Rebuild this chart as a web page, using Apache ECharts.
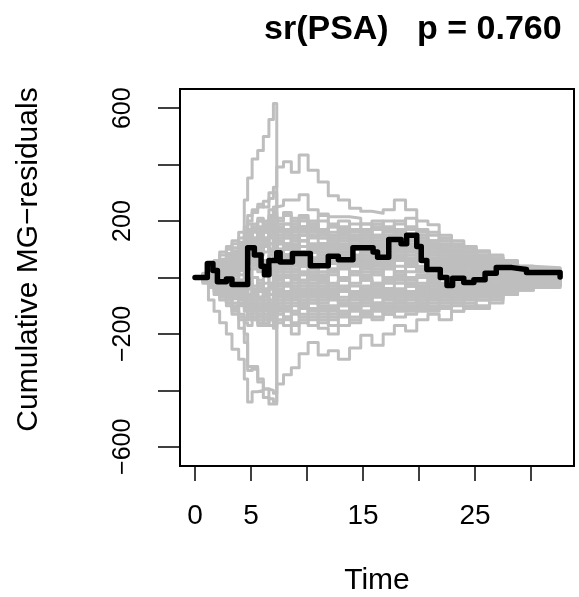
<!DOCTYPE html>
<html>
<head>
<meta charset="utf-8">
<script src="https://cdn.jsdelivr.net/npm/echarts@6/dist/echarts.min.js"></script>
<style>
html,body{margin:0;padding:0;background:#fff;}
#chart{width:579px;height:597px;}
</style>
</head>
<body>
<div id="chart"></div>
<script>
// ---- data ----
const titleText = 'sr(PSA)   p = 0.760';
const xName = 'Time';
const yName = 'Cumulative MG\u2212residuals';
const xTicks = [0, 5, 10, 15, 20, 25, 30];
const xTickLabels = [0, 5, 15, 25];
const yTicks = [-600, -400, -200, 0, 200, 400, 600];
const yTickLabels = [-600, -200, 200, 600];

// observed process
const obsTimes = [0, 1.1, 1.6, 2.0, 2.8, 3.3, 4.7, 5.3, 5.9, 6.2, 6.6, 7.3, 7.6, 8.7, 10.3, 11.9, 12.8, 14.1, 15.9, 16.3, 17.3, 18.4, 18.9, 19.8, 20.2, 20.7, 21.9, 22.5, 23.0, 24.0, 24.9, 25.9, 26.9, 28.3, 29.6, 32.6];
const obsValues = [0, 50, 25, -15, -5, -25, 105, 80, 40, 10, 60, 88, 55, 85, 42, 75, 63, 105, 90, 72, 135, 120, 150, 110, 60, 28, 0, -28, -3, -18, -8, 15, 35, 28, 18, 2];

// simulated processes (shared jump times)
const simTimes = [0, 0.7, 1.2, 1.7, 2.2, 2.8, 3.3, 3.9, 4.4, 4.7, 5.1, 5.6, 6.1, 6.6, 7.0, 7.3, 7.9, 8.6, 9.3, 10.1, 11.0, 11.9, 12.8, 13.8, 14.8, 15.8, 16.8, 17.8, 18.8, 19.8, 20.8, 21.8, 22.9, 24.0, 25.1, 26.3, 27.5, 28.8, 30.2, 32.6];
const sim01 = [0,10,25,40,55, 70,85,110,275,353, 420,450,500,560,617, 120,140,110,130,100, 80,110,90,120,100, 80,110,130,90,60, 40,50,30,40,20, 30,20,10,15,10];
const sim02 = [0,-20,-80,-120,-160, -200,-254,-290,-360,-441, -405,-400,-425,-448,-448, -60,-80,-50,-90,-110, -80,-60,-90,-70,-40, -60,-80,-50,-30,-60, -40,-20,-40,-30,-10, -20,-10,0,-10,-5];
const sim03 = [0,-5,-20,-40,-60, -90,-130,-180,-230,-330, -315,-370,-395,-430,-440, -377,-345,-320,-270,-230, -275,-260,-290,-250,-205, -240,-200,-170,-190,-150, -130,-150,-120,-100,-110, -80,-50,-40,-25,-20];
const sim04 = [0,5,-10,-30,-50, -70,-100,-150,-200,-315, -325,-360,-395,-400,-410, -150,-170,-200,-160,-140, -180,-200,-170,-150,-120, -140,-110,-90,-120,-100, -80,-60,-70,-50,-60, -40,-30,-20,-10,-10];
const sim05 = [0,10,20,30,50, 40,60,80,150,200, 230,250,270,300,320, 392,410,373,434,380, 338,290,275,245,235, 228,240,275,240,200, 187,150,130,110,95, 80,60,40,30,25];
const sim06 = [0,-5,10,20,30, 50,40,70,120,150, 170,200,190,220,250, 255,275,275,293,240, 225,215,215,210,190, 200,170,190,210,170, 150,130,110,90,70, 60,45,30,25,20];
const sim07 = [0,12,30,60,90, 110,130,160,180,220, 240,260,250,280,300, 200,220,180,160,190, 170,150,160,140,120, 130,150,160,140,110, 90,100,80,70,60, 50,40,30,25,20];
const sim08 = [0,-8,-25,-40,-60, -80,-70,-100,-120,-150, -130,-160,-140,-170,-180, -90,-110,-130,-100,-120, -140,-110,-130,-100,-120, -90,-100,-80,-110,-90, -70,-80,-60,-70,-50, -40,-50,-30,-20,-15];
const sim09 = [0,5,20,40,30, 50,70,60,90,120, 100,140,130,160,150, 170,190,160,180,150, 170,180,160,150,170, 140,160,150,170,130, 110,120,100,80,70, 50,40,35,25,15];
const sim10 = [0,-5,-15,-30,-20, -40,-60,-50,-80,-60, -90,-110,-80,-120,-100, -40,-60,-30,-50,-70, -40,-60,-80,-50,-30, -60,-40,-50,-70,-40, -20,-40,-60,-30,-50, -20,-30,-10,-20,-10];
const sim11 = [0,10,25,20,45, 60,50,80,70,100, 80,120,110,90,130, 80,100,130,110,90, 120,100,80,110,130, 100,90,120,140,110, 80,70,90,60,50, 60,40,20,30,20];
const sim12 = [0,-10,-20,-5,-30, -50,-40,-20,-60,-30, -70,-50,-90,-60,-80, 20,0,-20,10,-30, -10,20,0,-20,10, 30,0,-10,20,40, 20,0,10,-10,0, 10,-10,5,0,-5];
const sim13 = [0,8,15,35,50, 40,70,90,110,80, 130,150,170,140,190, 130,150,170,200,180, 150,130,160,140,120, 150,170,160,130,120, 100,90,70,80,60, 40,50,30,20,15];
const sim14 = [0,-12,-30,-50,-70, -90,-110,-130,-150,-110, -140,-120,-150,-130,-160, -120,-140,-160,-130,-150, -120,-100,-130,-110,-90, -110,-130,-100,-80,-100, -90,-70,-80,-60,-70, -50,-40,-30,-25,-20];
const sim15 = [0,3,10,25,15, 30,20,40,60,50, 70,40,60,80,60, 100,80,60,90,70, 50,80,100,70,60, 90,110,100,80,60, 50,70,40,30,50, 30,20,10,15,10];
const sim16 = [0,-3,-10,5,-15, 0,20,10,-20,30, 0,-30,10,-20,20, 60,40,20,50,30, 0,30,50,20,40, 10,30,60,40,20, 0,20,-10,10,-20, 0,10,0,5,0];
const sim17 = [0,15,35,55,80, 100,120,140,160,190, 170,200,180,210,190, 140,160,140,170,190, 160,180,150,170,190, 170,150,130,150,120, 130,110,120,90,80, 70,50,40,30,25];
const sim18 = [0,-6,-20,-35,-50, -70,-90,-70,-100,-80, -120,-100,-140,-110,-130, -60,-80,-100,-70,-90, -110,-130,-100,-120,-140, -110,-90,-120,-100,-80, -100,-110,-90,-80,-60, -70,-50,-40,-30,-25];
const sim19 = [0,7,18,30,45, 60,80,100,90,130, 110,160,140,180,170, 60,80,50,70,90, 110,90,60,80,100, 120,90,70,100,80, 60,40,60,50,30, 40,20,15,10,10];
const sim20 = [0,-2,5,15,30, 20,40,30,60,90, 110,90,120,100,140, 40,20,40,60,40, 20,50,30,10,40, 60,40,20,50,70, 50,30,40,20,30, 10,20,10,5,5];
const sim21 = [0,4,-10,-25,-15, -35,-20,-45,-30,-60, -40,-70,-50,-30,-60, 0,-20,10,-10,20, 40,10,-10,20,0, -30,-10,10,-20,0, 20,0,-20,0,-10, 10,0,-5,-5,0];
const sim22 = [0,10,20,45,65, 85,105,125,140,160, 180,150,190,170,210, 170,190,210,180,200, 220,190,170,190,160, 180,200,170,150,160, 130,140,110,100,90, 60,50,35,30,20];
const sim23 = [0,-8,-18,-10,-30, -45,-60,-80,-60,-100, -80,-130,-100,-150,-120, -130,-150,-120,-140,-110, -130,-150,-120,-100,-130, -110,-130,-110,-90,-120, -110,-90,-100,-110,-80, -90,-60,-45,-35,-25];
const sim24 = [0,5,15,10,25, 45,35,55,75,65, 95,85,115,95,115, 30,50,70,40,60, 80,60,40,60,80, 60,40,60,90,70, 40,60,30,40,20, 30,10,10,10,5];
const sim25 = [0,-4,-8,-20,-10, -25,-40,-25,-50,-20, -45,-20,-50,-40,-70, -20,10,-10,-30,0, -20,-40,-10,-30,-50, -20,-40,-60,-30,-50, -30,-50,-40,-20,-40, -20,-30,-15,-10,-10];
const sim26 = [0,6,12,30,20, 40,60,80,70,110, 100,80,110,90,120, 10,30,0,20,-10, 10,30,60,40,20, 40,60,80,50,30, 10,30,10,-10,10, -10,0,-5,0,0];
const sim27 = [0,-15,-35,-60,-80, -100,-120,-140,-160,-170, -150,-170,-160,-150,-170, -100,-120,-90,-110,-130, -160,-140,-120,-140,-120, -100,-120,-90,-70,-90, -110,-80,-90,-70,-80, -60,-50,-35,-30,-25];
const sim28 = [0,2,8,20,35, 50,65,85,100,150, 130,170,160,200,190, 100,120,100,130,110, 90,110,130,110,90, 110,90,120,100,80, 90,60,50,60,40, 30,20,20,15,10];
const sim29 = [0,-5,-12,-25,-40, -30,-55,-75,-90,-60, -90,-70,-100,-80,-110, -70,-50,-70,-90,-60, -80,-60,-40,-60,-80, -60,-40,-70,-50,-30, -50,-30,-50,-40,-20, -30,-20,-10,-15,-5];
const sim30 = [0,9,22,15,35, 25,45,65,50,120, 140,130,170,150,180, 150,170,150,130,150, 170,150,130,110,130, 150,130,110,120,100, 80,100,80,60,70, 50,30,25,20,15];
const sim31 = [0,-3,-12,-25,-40, -60,-45,-70,-90,-130, -110,-140,-120,-90,-110, -30,-50,-70,-40,-60, -90,-70,-50,-80,-60, -40,-70,-50,-30,-60, -40,-60,-40,-60,-40, -30,-20,-15,-10,-10];
const sim32 = [0,6,-5,10,-10, 15,-5,25,40,70, 50,30,50,20,40, -20,0,30,10,-20, 0,-30,-10,20,-10, -30,0,20,-10,10, -10,-30,-10,-30,-10, 0,-10,0,-5,0];
const sim33 = [0,8,-12,20,40, 25,55,35,75,140, 120,160,130,100,150, 50,70,90,60,100, 70,50,80,100,70, 50,80,60,40,60, 30,50,20,40,10, 20,30,10,10,5];
const sim34 = [0,-6,10,-15,5, -20,-40,-10,-50,-90, -60,-100,-130,-110,-140, -90,-60,-80,-110,-90, -60,-80,-100,-70,-90, -70,-50,-80,-60,-40, -60,-40,-30,-50,-30, -40,-20,-30,-15,-10];
const sim35 = [0,12,28,15,40, 60,80,60,100,150, 170,140,180,200,170, 210,230,200,220,190, 200,180,200,170,150, 170,180,200,180,150, 160,130,100,110,80, 70,50,40,35,25];
const sim36 = [0,-10,-25,-15,-40, -20,-50,-70,-40,-70, -100,-80,-60,-90,-70, 30,50,20,40,10, -10,20,40,60,30, 10,-10,20,0,-20, 0,-20,10,-10,-30, -10,-20,-10,-5,-5];
const sim37 = [0,3,15,30,50, 70,55,90,110,140, 160,180,160,190,230, 90,110,80,60,90, 120,140,120,100,80, 100,120,140,110,90, 70,90,60,40,60, 40,30,20,20,10];
const sim38 = [0,-15,-5,-30,-50, -35,-60,-90,-110,-140, -120,-150,-170,-140,-160, -160,-140,-170,-150,-170, -150,-170,-140,-160,-130, -150,-120,-140,-130,-110, -120,-100,-120,-90,-100, -70,-60,-45,-30,-25];
const sim39 = [0,5,-5,15,0, 20,5,30,10,50, 30,60,40,80,50, 140,120,150,130,160, 140,120,150,130,110, 140,120,100,130,110, 90,110,70,80,50, 40,30,20,15,10];
const sim40 = [0,-4,8,-10,20, 0,30,-10,20,-30, 0,-40,-20,10,-20, -80,-100,-70,-90,-60, -40,-70,-90,-60,-80, -100,-70,-90,-60,-80, -60,-80,-50,-70,-50, -60,-40,-30,-25,-15];
const sim41 = [0,10,0,20,10, 30,15,45,30,80, 60,90,120,100,90, 180,160,190,170,150, 120,140,110,130,150, 120,100,90,110,140, 110,80,90,70,50, 60,40,30,20,15];
const sim42 = [0,-8,-20,-35,-25, -50,-65,-50,-80,-110, -90,-70,-100,-120,-90, -10,-30,-50,-20,-40, -70,-50,-30,-50,-70, -90,-60,-40,-60,-80, -70,-50,-70,-50,-30, -40,-30,-20,-10,-10];
const sim43 = [0,7,20,8,25, 10,30,50,35,60, 40,20,50,30,60, 120,100,80,110,140, 160,130,110,130,110, 90,110,80,100,120, 100,80,60,70,40, 50,30,25,20,10];
const sim44 = [0,-2,-15,-5,-25, -45,-30,-10,-35,-5, -30,-10,-40,-20,-50, 60,80,100,70,50, 80,60,40,70,50, 30,50,70,40,20, 40,20,30,10,20, 0,10,5,0,0];
const sim45 = [0,14,25,45,35, 60,85,105,90,170, 190,210,190,240,220, 120,100,130,150,120, 100,120,140,160,140, 110,130,100,70,90, 110,90,70,50,40, 30,40,25,20,15];
const sim46 = [0,-7,-3,-20,-45, -60,-75,-95,-70,-120, -150,-130,-110,-140,-120, -50,-70,-40,-60,-30, -50,-20,-40,-60,-40, -20,-40,-20,-50,-30, -10,-30,-10,-20,-40, -20,-10,-15,-5,-5];
const sim47 = [0,5,15,-5,20, 35,15,40,60,100, 80,110,90,120,100, 160,140,120,150,170, 140,160,180,150,130, 110,140,160,130,100, 120,100,80,90,60, 40,50,30,20,15];
const sim48 = [0,-5,-15,-25,-10, -30,-15,-35,-55,-70, -50,-80,-60,-40,-80, -110,-90,-120,-100,-80, -100,-120,-90,-110,-100, -120,-100,-80,-100,-70, -80,-60,-80,-60,-40, -50,-30,-20,-20,-10];
const sim49 = [0,10,20,30,15, 35,50,70,50,90, 120,100,130,150,130, 40,60,90,70,40, 60,90,70,50,70, 90,70,40,60,30, 50,30,50,30,40, 20,10,15,5,5];
const sim50 = [0,-3,5,-10,-30, -15,-35,-20,-45,-20, -50,-30,-60,-40,-20, 100,80,60,80,110, 90,70,90,110,90, 70,50,80,60,80, 60,40,50,30,10, 20,10,0,5,0];
const sim51 = [0,12,25,40,60, 75,95,120,110,160, 140,170,200,180,200, 60,40,70,90,60, 40,60,80,60,40, 20,40,20,40,60, 30,10,30,10,0, 10,0,5,0,0];
const sim52 = [0,-10,-5,-20,-35, -55,-40,-60,-80,-100, -80,-110,-90,-110,-130, -50,-30,-60,-80,-50, -30,-50,-70,-90,-70, -50,-70,-50,-30,-50, -70,-50,-60,-40,-50, -30,-40,-25,-20,-10];
const sim53 = [0,2,12,25,40, 30,50,40,70,110, 90,120,140,120,160, 190,170,190,210,180, 160,180,160,140,160, 190,170,150,170,140, 120,110,90,100,70, 60,40,30,25,20];
const sim54 = [0,-9,-20,-10,-30, -20,-40,-30,-60,-40, -70,-90,-70,-100,-80, 0,-20,-40,-10,10, -10,-30,-10,10,-10, -30,-20,0,-20,-40, -20,-40,-20,-30,-10, -20,-10,-10,-5,-5];

const simPaths = [sim01,sim02,sim03,sim04,sim05,sim06,sim07,sim08,sim09,sim10,sim11,sim12,sim13,sim14,sim15,sim16,
  sim17,sim18,sim19,sim20,sim21,sim22,sim23,sim24,sim25,sim26,sim27,sim28,sim29,sim30,sim31,sim32,
  sim33,sim34,sim35,sim36,sim37,sim38,sim39,sim40,sim41,sim42,sim43,sim44,sim45,sim46,
  sim47,sim48,sim49,sim50,sim51,sim52,sim53,sim54];

// ---- chart ----
const FONT = '"Liberation Sans", Arial, Helvetica, sans-serif';
const minus = v => String(v).replace('-', '\u2212');

const series = simPaths.map(p => ({
  type: 'line', step: 'end', silent: true, showSymbol: false, symbol: 'none',
  data: simTimes.map((t, i) => [t, p[i]]),
  lineStyle: { color: '#BEBEBE', width: 3, cap: 'round', join: 'round' },
  z: 2, animation: false
}));
series.push({
  type: 'line', step: 'end', silent: true, showSymbol: false, symbol: 'none',
  data: obsTimes.map((t, i) => [t, obsValues[i]]),
  lineStyle: { color: '#000', width: 5.5, cap: 'round', join: 'round' },
  z: 5, animation: false
});

const chart = echarts.init(document.getElementById('chart'), null, { renderer: 'canvas' });
chart.setOption({
  animation: false,
  backgroundColor: '#fff',
  title: {
    text: titleText, left: 264, top: 13, padding: 0,
    textStyle: { fontFamily: FONT, fontWeight: 'bold', fontSize: 34, color: '#000' }
  },
  grid: {
    left: 180, top: 89, width: 394, height: 377, show: true,
    borderColor: '#000', borderWidth: 2, backgroundColor: 'rgba(0,0,0,0)',
    containLabel: false, outerBoundsMode: 'none'
  },
  xAxis: {
    type: 'value', min: -1.34, max: 33.84,
    axisLine: { show: false, onZero: false },
    splitLine: { show: false },
    axisTick: { show: true, inside: false, length: 15, lineStyle: { color: '#000', width: 1.5 }, customValues: xTicks },
    axisLabel: { customValues: xTickLabels, margin: 36, fontSize: 28, color: '#000', fontFamily: FONT },
    name: xName, nameLocation: 'middle', nameGap: 100,
    nameTextStyle: { fontSize: 30, color: '#000', fontFamily: FONT }
  },
  yAxis: {
    type: 'value', min: -668, max: 668,
    axisLine: { show: false, onZero: false },
    splitLine: { show: false },
    axisTick: { show: true, inside: false, length: 22, lineStyle: { color: '#000', width: 1.5 }, customValues: yTicks },
    axisLabel: { customValues: yTickLabels, rotate: 90, margin: 44, fontSize: 25, color: '#000', fontFamily: FONT, formatter: v => minus(v) },
    name: yName, nameLocation: 'middle', nameGap: 136, nameRotate: 90,
    nameTextStyle: { fontSize: 30, color: '#000', fontFamily: FONT, padding: [0, 0, 0, 36] }
  },
  series: series
});
</script>
</body>
</html>
